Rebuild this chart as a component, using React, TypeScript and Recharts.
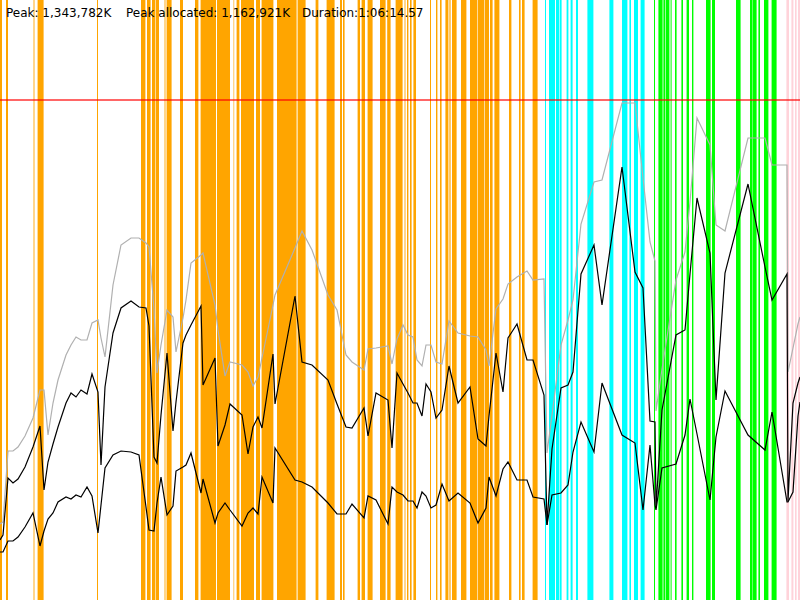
import { LineChart, Line, XAxis, YAxis, ReferenceArea, ReferenceLine } from 'recharts';

// time in seconds, memory in arbitrary heap units (limit = 1000)
const times = [
  0, 15, 40, 65, 90, 125, 165, 200, 220, 240,
  265, 290, 330, 355, 380, 405, 435, 460, 490, 505,
  525, 565, 605, 655, 695, 730, 745, 770, 785, 805,
  835, 865, 880, 915, 930, 955, 1005, 1015, 1075, 1090,
  1125, 1150, 1210, 1240, 1265, 1290, 1310, 1365, 1375, 1475,
  1510, 1560, 1640, 1685, 1730, 1760, 1820, 1840, 1880, 1940,
  1960, 1985, 2015, 2040, 2065, 2085, 2110, 2130, 2155, 2180,
  2210, 2245, 2290, 2350, 2390, 2430, 2445, 2480, 2515, 2540,
  2585, 2635, 2665, 2720, 2735, 2760, 2805, 2840, 2865, 2905,
  2970, 3010, 3110, 3175, 3215, 3250, 3275, 3280, 3310, 3380,
  3425, 3450, 3485, 3550, 3580, 3625, 3740, 3825, 3860, 3935,
  3940, 3965, 3990, 4000,
];

const committed = [
  152, 156, 298, 298, 306, 328, 364, 420, 420, 330,
  394, 440, 490, 510, 526, 520, 520, 554, 560, 524,
  486, 630, 710, 724, 724, 714, 706, 582, 454, 510,
  580, 566, 496, 564, 600, 674, 690, 694, 590, 540,
  448, 476, 470, 456, 428, 446, 484, 590, 610, 704,
  738, 700, 610, 580, 490, 476, 460, 502, 504, 508,
  472, 522, 550, 530, 526, 480, 468, 510, 510, 476,
  472, 558, 534, 528, 526, 500, 468, 582, 602, 632,
  646, 658, 640, 642, 294, 370, 510, 560, 600, 752,
  836, 840, 994, 994, 844, 716, 678, 378, 462, 640,
  696, 796, 964, 910, 750, 738, 924, 924, 870, 870,
  456, 504, 552, 566,
];

const used = [
  120, 130, 244, 234, 242, 266, 306, 348, 220, 276,
  312, 346, 394, 414, 406, 420, 412, 452, 416, 270,
  426, 534, 584, 598, 586, 584, 548, 286, 274, 370,
  494, 338, 396, 514, 530, 550, 588, 430, 484, 308,
  350, 392, 370, 292, 346, 366, 344, 492, 392, 608,
  476, 470, 440, 392, 346, 344, 384, 328, 414, 400,
  304, 454, 432, 414, 394, 394, 368, 432, 416, 364,
  380, 468, 394, 426, 322, 308, 368, 494, 416, 524,
  552, 480, 480, 410, 150, 302, 424, 430, 456, 652,
  710, 590, 866, 656, 624, 358, 356, 184, 380, 530,
  540, 652, 804, 694, 400, 654, 832, 666, 600, 652,
  198, 394, 434, 446,
];

const live = [
  96, 96, 118, 118, 126, 146, 174, 108, 138, 162,
  174, 196, 206, 202, 210, 206, 226, 208, 134, 190,
  264, 290, 298, 296, 290, 186, 140, 138, 194, 246,
  170, 188, 258, 266, 270, 294, 214, 242, 154, 174,
  194, 180, 148, 174, 184, 172, 246, 194, 304, 240,
  236, 226, 194, 172, 172, 192, 164, 208, 200, 152,
  226, 216, 210, 198, 198, 184, 216, 208, 184, 190,
  232, 198, 214, 194, 154, 184, 246, 208, 262, 276,
  240, 240, 206, 202, 150, 210, 214, 230, 296, 356,
  296, 434, 330, 314, 180, 310, 190, 180, 264, 272,
  330, 402, 332, 200, 326, 418, 330, 300, 376, 196,
  196, 216, 368, 396,
];

// GC activity bands [start, end] in seconds
const orangeBands = [
  [0, 10], [30, 40], [188, 218], [485, 490], [705, 727], [735, 753], [760, 775],
  [778, 795], [833, 858], [900, 915], [975, 992], [1003, 1080], [1085, 1150],
  [1183, 1197], [1205, 1270], [1280, 1300], [1308, 1367], [1385, 1483], [1488, 1528],
  [1578, 1592], [1633, 1673], [1700, 1710], [1715, 1723], [1788, 1800], [1808, 1825],
  [1838, 1863], [1900, 1928], [1936, 1953], [1978, 2013], [2035, 2042], [2050, 2058],
  [2067, 2080], [2150, 2155], [2180, 2187], [2200, 2208], [2227, 2242], [2247, 2253],
  [2260, 2283], [2305, 2332], [2350, 2387], [2390, 2420], [2423, 2445], [2450, 2463],
  [2472, 2497], [2545, 2557], [2595, 2603], [2610, 2623], [2663, 2688],
];
const fadedOrangeBands = [[165, 175], [820, 830], [1165, 1172], [2020, 2030]];
const cyanBands = [
  [2725, 2730], [2745, 2775], [2780, 2797], [2800, 2808], [2833, 2842], [2853, 2863],
  [2880, 2890], [2937, 2967], [3047, 3067], [3110, 3137], [3147, 3155], [3170, 3190],
  [3203, 3223],
];
const greenBands = [
  [3270, 3275], [3292, 3313], [3317, 3327], [3330, 3347], [3353, 3358], [3375, 3383],
  [3407, 3415], [3433, 3445], [3460, 3467], [3530, 3553], [3560, 3575], [3680, 3703],
  [3750, 3763], [3765, 3783], [3792, 3800], [3820, 3842], [3858, 3883],
];
const pinkBands = [[3932, 3945], [3957, 3967], [3975, 3983], [3990, 4000]];

const heapLimit = 1000;

const summary = [
  { label: 'Peak: 1,343,782K', left: 6 },
  { label: 'Peak allocated: 1,162,921K', left: 126 },
  { label: 'Duration:1:06:14.57', left: 302 },
];

const data = times.map((t, i) => ({
  t,
  committed: committed[i],
  used: used[i],
  live: live[i],
}));

function bands(list: number[][], fill: string, opacity: number, key: string) {
  return list.map(([a, b], i) => (
    <ReferenceArea
      key={key + i}
      x1={a}
      x2={b}
      y1={0}
      y2={1200}
      fill={fill}
      fillOpacity={opacity}
      stroke="none"
      ifOverflow="hidden"
    />
  ));
}

export default function App() {
  return (
    <div style={{ position: 'fixed', left: 0, top: 0, width: 800, height: 600, background: '#fff' }}>
      <LineChart width={800} height={600} data={data} margin={{ top: 0, right: 0, bottom: 0, left: 0 }}>
        <XAxis dataKey="t" type="number" domain={[0, 4000]} hide />
        <YAxis type="number" domain={[0, 1200]} hide />
        {bands(orangeBands, '#ffa500', 1, 'o')}
        {bands(fadedOrangeBands, '#ffa500', 0.45, 'f')}
        {bands(cyanBands, '#00ffff', 1, 'c')}
        {bands(greenBands, '#00ff00', 1, 'g')}
        {bands(pinkBands, '#ffc0cb', 0.7, 'p')}
        <ReferenceLine y={heapLimit} stroke="#ff0000" strokeOpacity={0.6} strokeWidth={2} />
        <Line type="linear" dataKey="committed" stroke="#b0b0b0" strokeWidth={1.2} dot={false} activeDot={false} isAnimationActive={false} />
        <Line type="linear" dataKey="used" stroke="#000" strokeWidth={1.2} dot={false} activeDot={false} isAnimationActive={false} />
        <Line type="linear" dataKey="live" stroke="#000" strokeWidth={1.2} dot={false} activeDot={false} isAnimationActive={false} />
      </LineChart>
      {summary.map((s) => (
        <div
          key={s.label}
          style={{
            position: 'absolute',
            left: s.left,
            top: 6,
            fontFamily: '"DejaVu Sans", sans-serif',
            fontSize: 12,
            color: '#000',
            whiteSpace: 'pre',
          }}
        >
          {s.label}
        </div>
      ))}
    </div>
  );
}
